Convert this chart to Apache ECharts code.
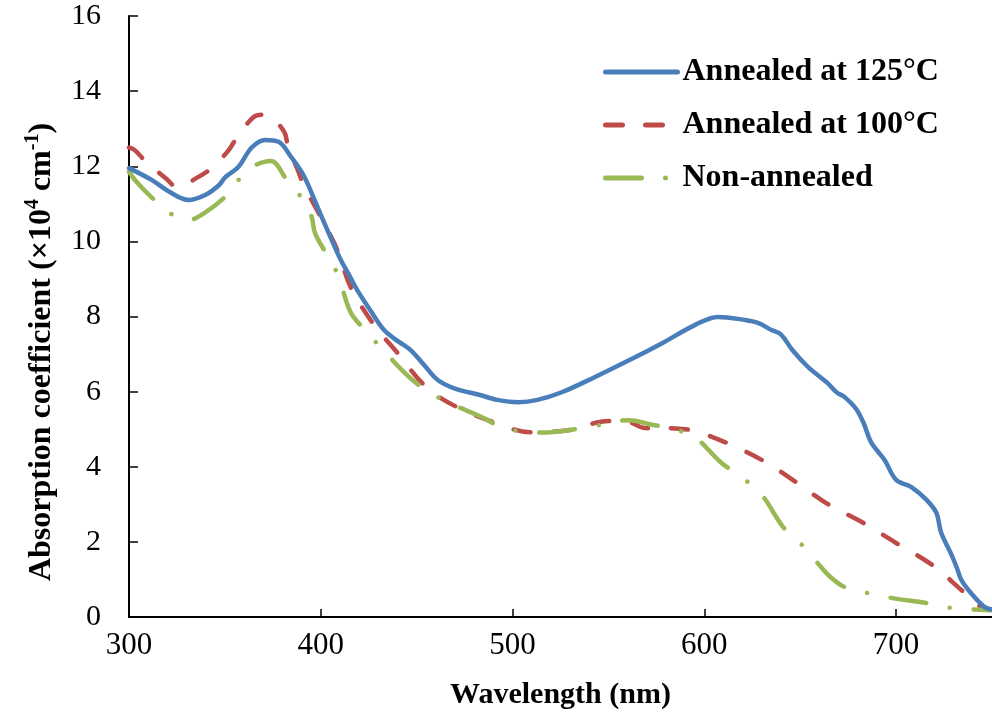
<!DOCTYPE html>
<html>
<head>
<meta charset="utf-8">
<script src="https://cdn.jsdelivr.net/npm/echarts@6/dist/echarts.min.js"></script>
<style>html,body{margin:0;padding:0;background:#fff}#c{width:992px;height:719px}</style>
</head>
<body>
<div id="c"></div>
<script>
const seriesNames = ['Annealed at 125°C', 'Annealed at 100°C', 'Non-annealed'];
const xTicks = [300, 400, 500, 600, 700];
const yTicks = [0, 2, 4, 6, 8, 10, 12, 14, 16];

const wl125 = [300,312,321,331,340,347,350,357,364,371,378,384.5,390,393,398,405,410,415,419,426,433,440,447,454,461,470,483,492,503,513,526,543,561,578,595,607,621,628,635,640,646,654,664,669,673,679,683,687,694,700,708,716,721,723.5,728.5,731.5,734,739,746,750];
const val125 = [11.95,11.63,11.32,11.1,11.24,11.5,11.7,11.98,12.5,12.7,12.65,12.25,11.85,11.55,10.95,10.12,9.55,9.08,8.7,8.15,7.64,7.35,7.1,6.7,6.31,6.08,5.91,5.78,5.72,5.78,5.99,6.39,6.84,7.29,7.77,7.99,7.91,7.83,7.64,7.52,7.1,6.66,6.24,5.98,5.86,5.55,5.17,4.65,4.18,3.65,3.46,3.11,2.77,2.24,1.7,1.33,0.99,0.64,0.27,0.2];

const wl100 = [300,303,309,319,325,336,343,352,357,365,369,374,381,383,388,391,398,407,410,415.5,427,440,455,471,492,509,530,550,560,569,585,595,611,630,647,664,683,700,719,734,740,745,750];
const val100 = [12.5,12.43,12.11,11.69,11.45,11.71,11.95,12.43,12.83,13.31,13.37,13.31,12.91,12.51,11.9,11.5,10.84,9.96,9.58,8.79,7.83,7.03,6.12,5.59,5.15,4.92,4.98,5.22,5.2,5.03,5.02,4.95,4.65,4.18,3.62,3.02,2.5,1.97,1.38,0.72,0.45,0.25,0.2];

const wlNon = [300,304,312,321,331,340,350,357,364,374,382,390,395,397,403,409,415.5,423,431,446,455,466,485,495,515,540,561,571,584,595,609,620,630,641,650,658,665,673,685,697,716,729,744,750];
const valNon = [11.85,11.58,11.16,10.76,10.57,10.78,11.18,11.63,11.98,12.14,11.66,11.16,10.7,10.22,9.66,9.1,8.12,7.64,7.19,6.39,6.04,5.72,5.3,5.03,4.91,5.06,5.24,5.14,5.0,4.79,4.1,3.7,3.25,2.4,1.97,1.5,1.1,0.8,0.64,0.51,0.37,0.24,0.19,0.18];

const zip = (a, b) => a.map((v, i) => [v, b[i]]);
const FONT = 'Liberation Serif';

const chart = echarts.init(document.getElementById('c'), null, {renderer: 'canvas'});
chart.setOption({
  animation: false,
  backgroundColor: '#ffffff',
  grid: {left: 129, right: -7, top: 16, bottom: 102, containLabel: false},
  legend: {
    orient: 'vertical', left: 598, top: 51,
    itemWidth: 72, itemHeight: 14, itemGap: 21, itemTextGap: 7,
    itemStyle: {opacity: 0},
    lineStyle: {width: 5},
    textStyle: {fontFamily: FONT, fontWeight: 'bold', fontSize: 32, color: '#000', lineHeight: 32},
    data: seriesNames
  },
  xAxis: {
    type: 'value', min: 300, max: 750, interval: 100,
    name: 'Wavelength (nm)', nameLocation: 'middle', nameGap: 63,
    nameTextStyle: {fontFamily: FONT, fontWeight: 'bold', fontSize: 30, color: '#000'},
    axisLine: {lineStyle: {color: '#000', width: 2}},
    axisTick: {inside: true, length: 8, lineStyle: {color: '#000', width: 1.5}},
    axisLabel: {fontFamily: FONT, fontSize: 31, color: '#000', margin: 13, showMaxLabel: false,
      formatter: v => xTicks.includes(v) ? String(v) : ''},
    splitLine: {show: false}
  },
  yAxis: {
    type: 'value', min: 0, max: 16, interval: 2,
    axisLine: {show: true, lineStyle: {color: '#000', width: 2}},
    axisTick: {show: true, inside: true, length: 9, lineStyle: {color: '#000', width: 1.5}},
    axisLabel: {fontFamily: FONT, fontSize: 30, color: '#000', margin: 28,
      formatter: v => yTicks.includes(v) ? String(v) : ''},
    splitLine: {show: false}
  },
  graphic: [{
    type: 'text', x: 40, y: 352, rotation: Math.PI / 2,
    style: {
      text: '{b|Absorption coefficient (×10}{s|4}{b| cm}{s|-1}{b|)}',
      align: 'center', verticalAlign: 'middle',
      fill: '#000',
      rich: {
        b: {fontFamily: FONT, fontWeight: 'bold', fontSize: 32, fill: '#000', lineHeight: 35, verticalAlign: 'bottom'},
        s: {fontFamily: FONT, fontWeight: 'bold', fontSize: 20, fill: '#000', lineHeight: 35, verticalAlign: 'top'}
      }
    }
  }],
  series: [
    {name: seriesNames[0], type: 'line', data: zip(wl125, val125), smooth: 0.35, symbol: 'none',
      lineStyle: {color: '#4A7EBB', width: 4.5, cap: 'round', join: 'round'}, itemStyle: {color: '#4A7EBB'}, z: 3},
    {name: seriesNames[1], type: 'line', data: zip(wl100, val100), smooth: 0.35, symbol: 'none',
      lineStyle: {color: '#BE4B48', width: 4.5, type: [17, 23], cap: 'round', join: 'round'}, itemStyle: {color: '#BE4B48'}, z: 2},
    {name: seriesNames[2], type: 'line', data: zip(wlNon, valNon), smooth: 0.35, symbol: 'none',
      lineStyle: {color: '#98B954', width: 4.5, type: [36, 24, 0.01, 24], cap: 'round', join: 'round'}, itemStyle: {color: '#98B954'}, z: 2}
  ]
});
</script>
</body>
</html>
